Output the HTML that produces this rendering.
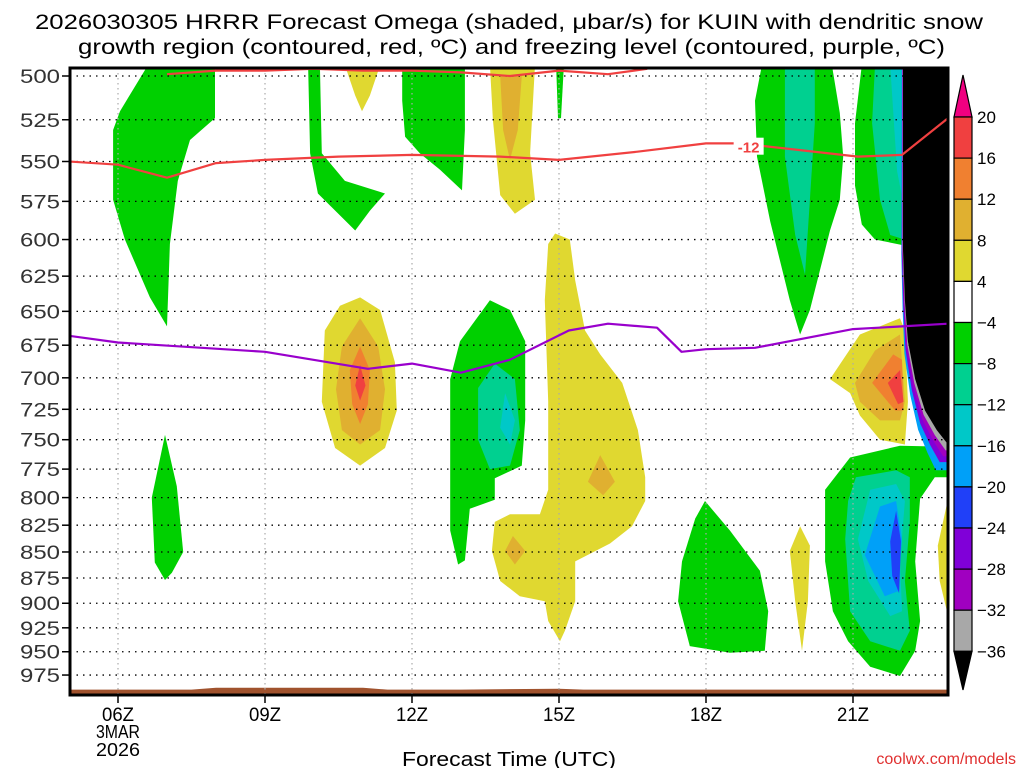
<!DOCTYPE html>
<html><head><meta charset="utf-8"><style>
body{margin:0;background:#fff;width:1024px;height:768px;overflow:hidden}
svg{display:block}
text{font-family:"Liberation Sans",sans-serif}
</style></head><body>
<svg id="c" width="1024" height="768" xmlns="http://www.w3.org/2000/svg">
<text x="35" y="29" font-size="21" textLength="948" lengthAdjust="spacingAndGlyphs">2026030305 HRRR Forecast Omega (shaded, μbar/s) for KUIN with dendritic snow</text>
<text x="78" y="54" font-size="21" textLength="867" lengthAdjust="spacingAndGlyphs">growth region (contoured, red, ºC) and freezing level (contoured, purple, ºC)</text>
<defs><clipPath id="pc"><rect x="70" y="68" width="878" height="627"/></clipPath></defs>
<g id="shade" clip-path="url(#pc)"></g>
<g id="grid" clip-path="url(#pc)"></g>
<g id="lines" clip-path="url(#pc)"></g>
<rect x="70" y="68" width="878" height="627" fill="none" stroke="#000" stroke-width="3"/>
<g id="axes"></g>
<g id="cbar"></g>
<text x="402" y="766" font-size="20" textLength="214" lengthAdjust="spacingAndGlyphs">Forecast Time (UTC)</text>
<text x="1016" y="764" font-size="16" fill="#e03030" text-anchor="end">coolwx.com/models</text>
</svg>
<script>
const pressureTicks=[500,525,550,575,600,625,650,675,700,725,750,775,800,825,850,875,900,925,950,975];
const hourTicks=[6,9,12,15,18,21];
const hourLabels=["06Z","09Z","12Z","15Z","18Z","21Z"];
const cbLevels=[20,16,12,8,4,-4,-8,-12,-16,-20,-24,-28,-32,-36];
const cbColors=["#f04040","#f08030","#e0b030","#e0d830","#ffffff","#00d000","#00d090","#00c8c8","#00a0f8","#2040f8","#8000d8","#a000c0","#a8a8a8"];
const C={g:"#00d000",tg:"#00d090",cy:"#00c8c8",bl:"#00a0f8",db:"#2040f8",pu:"#8000d8",vi:"#a000c0",gr:"#a8a8a8",bk:"#000",y:"#e0d830",go:"#e0b030",or:"#f08030",rd:"#f04040"};
const greenLeft=[[6.61,494],[7.98,494],[7.98,524],[7.47,537],[7.22,562],[7.06,603],[7.0,661],[6.65,640],[6.14,600],[5.9,574],[5.9,531],[6.04,520]];
const greenLeftLow=[[6.96,746],[7.2,790],[7.33,850],[7.1,870],[6.96,877],[6.75,860],[6.69,800]];
const green10=[[9.88,494],[10.12,494],[10.16,545],[10.63,562],[11.45,570],[11.14,581],[10.84,594],[10.08,570],[9.92,545]];
const yellow11top=[[10.63,494],[11.35,494],[11.14,511],[10.98,520],[10.84,511]];
const green12top=[[11.8,494],[13.08,494],[13.08,531],[13.02,568],[12.57,555],[12.16,545],[11.86,535],[11.8,514]];
const yellow14top=[[13.59,494],[14.51,494],[14.41,545],[14.51,574],[14.1,583],[13.8,571],[13.65,525]];
const gold14top=[[13.8,500],[14.24,500],[14.16,531],[14.0,549],[13.86,531]];
const green15top=[[14.94,494],[15.1,494],[15.04,524],[14.98,524]];
const yellow11=[[10.94,640],[11.35,649],[11.65,688],[11.69,726],[11.45,757],[10.94,772],[10.43,757],[10.16,719],[10.22,664],[10.53,646]];
const gold11=[[10.94,655],[11.31,676],[11.45,709],[11.35,742],[10.94,754],[10.57,742],[10.45,709],[10.57,676]];
const orange11=[[10.94,676],[11.14,694],[11.1,721],[10.94,737],[10.78,721],[10.73,694]];
const red11=[[10.94,690],[11.05,706],[10.94,718],[10.84,706]];
const green13=[[13.59,642],[14.0,649],[14.31,672],[14.31,734],[14.24,772],[13.69,783],[13.69,802],[13.18,810],[13.08,858],[12.94,862],[12.78,830],[12.78,701],[12.98,672]];
const teal13=[[13.69,689],[14.1,701],[14.2,742],[14.0,772],[13.59,775],[13.35,750],[13.35,708]];
const cyan13=[[13.9,712],[14.1,734],[14.0,754],[13.8,740]];
const yellowMid=[[14.92,596],[15.22,600],[15.33,628],[15.53,664],[15.84,682],[16.29,704],[16.61,742],[16.76,782],[16.76,803],[16.49,826],[16.04,842],[15.33,859],[15.33,898],[15.12,928],[15.02,939],[14.78,918],[14.71,898],[14.2,893],[13.8,878],[13.63,849],[13.69,822],[14.0,815],[14.61,815],[14.78,793],[14.78,719],[14.71,642],[14.78,603]];
const gold16=[[15.84,763],[16.14,786],[15.9,798],[15.59,786]];
const gold14=[[14.06,835],[14.31,849],[14.1,862],[13.9,849]];
const green18=[[17.98,803],[18.49,830],[19.1,868],[19.27,908],[19.2,949],[18.49,951],[17.67,944],[17.43,898],[17.51,859],[17.78,819]];
const yellow20=[[19.92,826],[20.12,844],[20.08,898],[19.96,949],[19.82,898],[19.71,849]];
const greenR1=[[19.14,494],[20.57,494],[20.73,521],[20.8,547],[20.73,574],[20.53,594],[20.12,649],[19.92,667],[19.71,642],[19.31,588],[19.04,547],[19.0,514]];
const tealR1=[[19.61,494],[20.22,494],[20.22,527],[20.12,574],[20.02,624],[19.82,597],[19.61,547]];
const greenR2=[[21.18,494],[22.05,494],[22.05,604],[21.45,600],[21.18,590],[21.04,565],[21.04,527]];
const tealR2=[[21.45,494],[22.05,494],[22.05,600],[21.76,597],[21.55,574],[21.39,527]];
const cyanR2=[[21.76,494],[22.05,494],[22.05,580],[21.9,556]];
const yellow22=[[20.53,701],[21.14,667],[21.96,655],[22.06,664],[22.12,719],[22.06,754],[21.55,750],[21.14,730],[20.94,712]];
const gold22=[[21.04,704],[21.45,679],[21.96,667],[22.06,719],[21.96,734],[21.55,734],[21.14,719]];
const orange22=[[21.39,704],[21.82,682],[22.0,686],[22.03,726],[21.86,726]];
const red22=[[21.71,704],[21.96,694],[22.03,719],[21.92,721]];
const greenLow=[[20.94,765],[21.96,755],[22.94,756],[22.94,782],[22.67,782],[22.37,801],[22.27,859],[22.37,918],[22.27,949],[21.96,976],[21.35,966],[20.9,939],[20.59,908],[20.43,859],[20.43,793]];
const tealLow=[[21.06,782],[21.88,776],[22.16,782],[22.16,822],[22.06,878],[22.16,928],[21.96,949],[21.35,939],[20.94,908],[20.84,838],[20.9,803]];
const cyanLow=[[21.35,793],[21.88,788],[22.06,803],[21.96,859],[22.0,908],[21.76,913],[21.31,878],[21.1,838]];
const blueLow=[[21.55,808],[21.88,803],[22.0,838],[21.92,888],[21.65,893],[21.24,853]];
const dblueLow=[[21.88,812],[21.98,840],[21.94,890],[21.8,873],[21.76,840]];
const yellowEdge=[[22.94,801],[22.94,913],[22.77,878],[22.73,844]];
const blackEdgeP=[494,607,642,672,701,726,742,754];
const blackEdgeH=[22.02,22.02,22.06,22.12,22.27,22.47,22.71,22.94];
const lineHours=[5,6,7,8,9,10.5,12,13.8,15,16.6,18,18.7,19.9,21.1,22,22.94];
const redLineP=[550,552,560,551,549,547,546,547,549,544,539,539,543,547,546,524];
const topRedHours=[7,8,9,10,11,12,13,14,15,16,16.8];
const topRedP=[499,497,497,496,497,497,498,500,497,499,496];
const purpleHours=[5,6,9,11.1,12,13,14,15.2,16,17,17.5,18,19,21,22,22.94];
const purpleP=[668,673,680,693,689,696,686,664,659,662,680,678,677,663,661,659];
const terrainHours=[5,7.5,8,11,11.5,13,15,15.5,22.94];
const terrainP=[991,991,989,989,991,991,990,991,991];

const NS="http://www.w3.org/2000/svg";
const X=h=>69+49*(h-5);
const Y=p=>76+897*Math.log(p/500);
function mk(tag,attrs,parent){const e=document.createElementNS(NS,tag);for(const k in attrs)e.setAttribute(k,attrs[k]);parent.appendChild(e);return e;}
const shade=document.getElementById('shade');
function poly(pts,color,name){
  const e=mk('polygon',{points:pts.map(q=>X(q[0]).toFixed(1)+','+Y(q[1]).toFixed(1)).join(' '),fill:color},shade);
  
  
}
const shapes=[[greenLeft,C.g,'green-left'],[greenLeftLow,C.g,'green-left-low'],[green10,C.g,'green-10z'],[yellow11top,C.y,'yellow-11z-top'],[green12top,C.g,'green-12z-top'],[yellow14top,C.y,'yellow-14z-top'],[gold14top,C.go,'gold-14z-top'],[green15top,C.g,'green-15z-top'],[yellow11,C.y,'yellow-11z'],[gold11,C.go,'gold-11z'],[orange11,C.or,'orange-11z'],[red11,C.rd,'red-11z'],[green13,C.g,'green-13z'],[teal13,C.tg,'teal-13z'],[cyan13,C.cy,'cyan-13z'],[yellowMid,C.y,'yellow-15z'],[gold16,C.go,'gold-16z'],[gold14,C.go,'gold-14z'],[green18,C.g,'green-18z'],[yellow20,C.y,'yellow-20z'],[greenR1,C.g,'green-19z'],[tealR1,C.tg,'teal-19z'],[greenR2,C.g,'green-21z'],[tealR2,C.tg,'teal-21z'],[cyanR2,C.cy,'cyan-21z'],[yellow22,C.y,'yellow-22z'],[gold22,C.go,'gold-22z'],[orange22,C.or,'orange-22z'],[red22,C.rd,'red-22z'],[greenLow,C.g,'green-low-right'],[tealLow,C.tg,'teal-low-right'],[cyanLow,C.cy,'cyan-low-right'],[blueLow,C.bl,'blue-low-right'],[dblueLow,C.db,'darkblue-low-right'],[yellowEdge,C.y,'yellow-edge']];
shapes.forEach(s=>poly(s[0],s[1],s[2]));
[[0.25,C.bl,'blue-band',22],[0.17,C.pu,'purple-band',15],[0.1,C.vi,'violet-band',10],[0.05,C.gr,'gray-band',5],[0,C.bk,'black-region',0]].forEach(b=>{
  const n=blackEdgeH.length;
  const pts=blackEdgeH.map((h,i)=>{const f=i/(n-1);return [h-b[0]*(0.12+0.88*f*f),blackEdgeP[i]+b[3]*f];});
  pts.push([23.2,blackEdgeP[n-1]+b[3]],[23.2,494]);
  poly(pts,b[1],b[2]);
});
{const pts=terrainHours.map((h,i)=>[h,terrainP[i]]);pts.push([22.94,1010],[5,1010]);poly(pts,'#a0522d','terrain');}
const grid=document.getElementById('grid');
pressureTicks.forEach(p=>{const e=mk('line',{x1:70,x2:948,y1:Y(p),y2:Y(p),stroke:'#000','stroke-width':1.3,'stroke-dasharray':'1.5 5'},grid);

});
hourTicks.forEach(h=>{const e=mk('line',{x1:X(h),x2:X(h),y1:68,y2:695,stroke:'#aaa','stroke-width':1.2,'stroke-dasharray':'1.5 3.5'},grid);

});
const lines=document.getElementById('lines');
function pl(hs,ps,color,name){const e=mk('polyline',{points:hs.map((h,i)=>X(h).toFixed(1)+','+Y(ps[i]).toFixed(1)).join(' '),fill:'none',stroke:color,'stroke-width':2.2,'stroke-linejoin':'round'},lines);

}
pl(lineHours,redLineP,'#f04040','dgz-minus12-line');
pl(topRedHours,topRedP,'#f04040','dgz-top-line');
pl(purpleHours,purpleP,'#9900cc','freezing-level-line');
{const e=mk('rect',{x:X(18.85)-14,y:Y(541)-9,width:30,height:17,fill:'#fff'},lines);


const t=mk('text',{x:X(18.85)+1,y:Y(541)+6,'font-size':15,fill:'#f04040','text-anchor':'middle','font-weight':'bold'},lines);t.textContent='-12';

}
const axes=document.getElementById('axes');
pressureTicks.forEach(p=>{const l=mk('line',{x1:62,x2:70,y1:Y(p),y2:Y(p),stroke:'#000','stroke-width':1.5},axes);


const t=mk('text',{x:20,y:Y(p)+7,'font-size':19,fill:'#333',textLength:40,lengthAdjust:'spacingAndGlyphs'},axes);t.textContent=p;

});
hourTicks.forEach((h,i)=>{const l=mk('line',{x1:X(h),x2:X(h),y1:695,y2:703,stroke:'#000','stroke-width':1.5},axes);


const t=mk('text',{x:X(h)-16,y:721,'font-size':19,textLength:32,lengthAdjust:'spacingAndGlyphs'},axes);t.textContent=hourLabels[i];

});
[['3MAR',738],['2026',756]].forEach(d=>{const t=mk('text',{x:X(6)-22,y:d[1],'font-size':18,textLength:44,lengthAdjust:'spacingAndGlyphs'},axes);t.textContent=d[0];

});
const cb=document.getElementById('cbar');
const cbX=954,cbW=18,cbTop=117,cbStep=41.1;
{const e=mk('polygon',{points:`${cbX},${cbTop} ${cbX+cbW},${cbTop} ${cbX+cbW/2},75`,fill:'#f00080',stroke:'#000','stroke-width':1.2},cb);

}
cbColors.forEach((c,i)=>{const e=mk('rect',{x:cbX,y:cbTop+i*cbStep,width:cbW,height:cbStep,fill:c,stroke:'#000','stroke-width':1.2},cb);

});
{const yb=cbTop+cbColors.length*cbStep;const e=mk('polygon',{points:`${cbX},${yb} ${cbX+cbW},${yb} ${cbX+cbW/2},690`,fill:'#000',stroke:'#000','stroke-width':1.2},cb);

}
cbLevels.forEach((v,i)=>{const t=mk('text',{x:977,y:cbTop+i*cbStep+6,'font-size':17},cb);t.textContent=v<0?'\u2212'+(-v):v;

});
</script>
</body></html>
